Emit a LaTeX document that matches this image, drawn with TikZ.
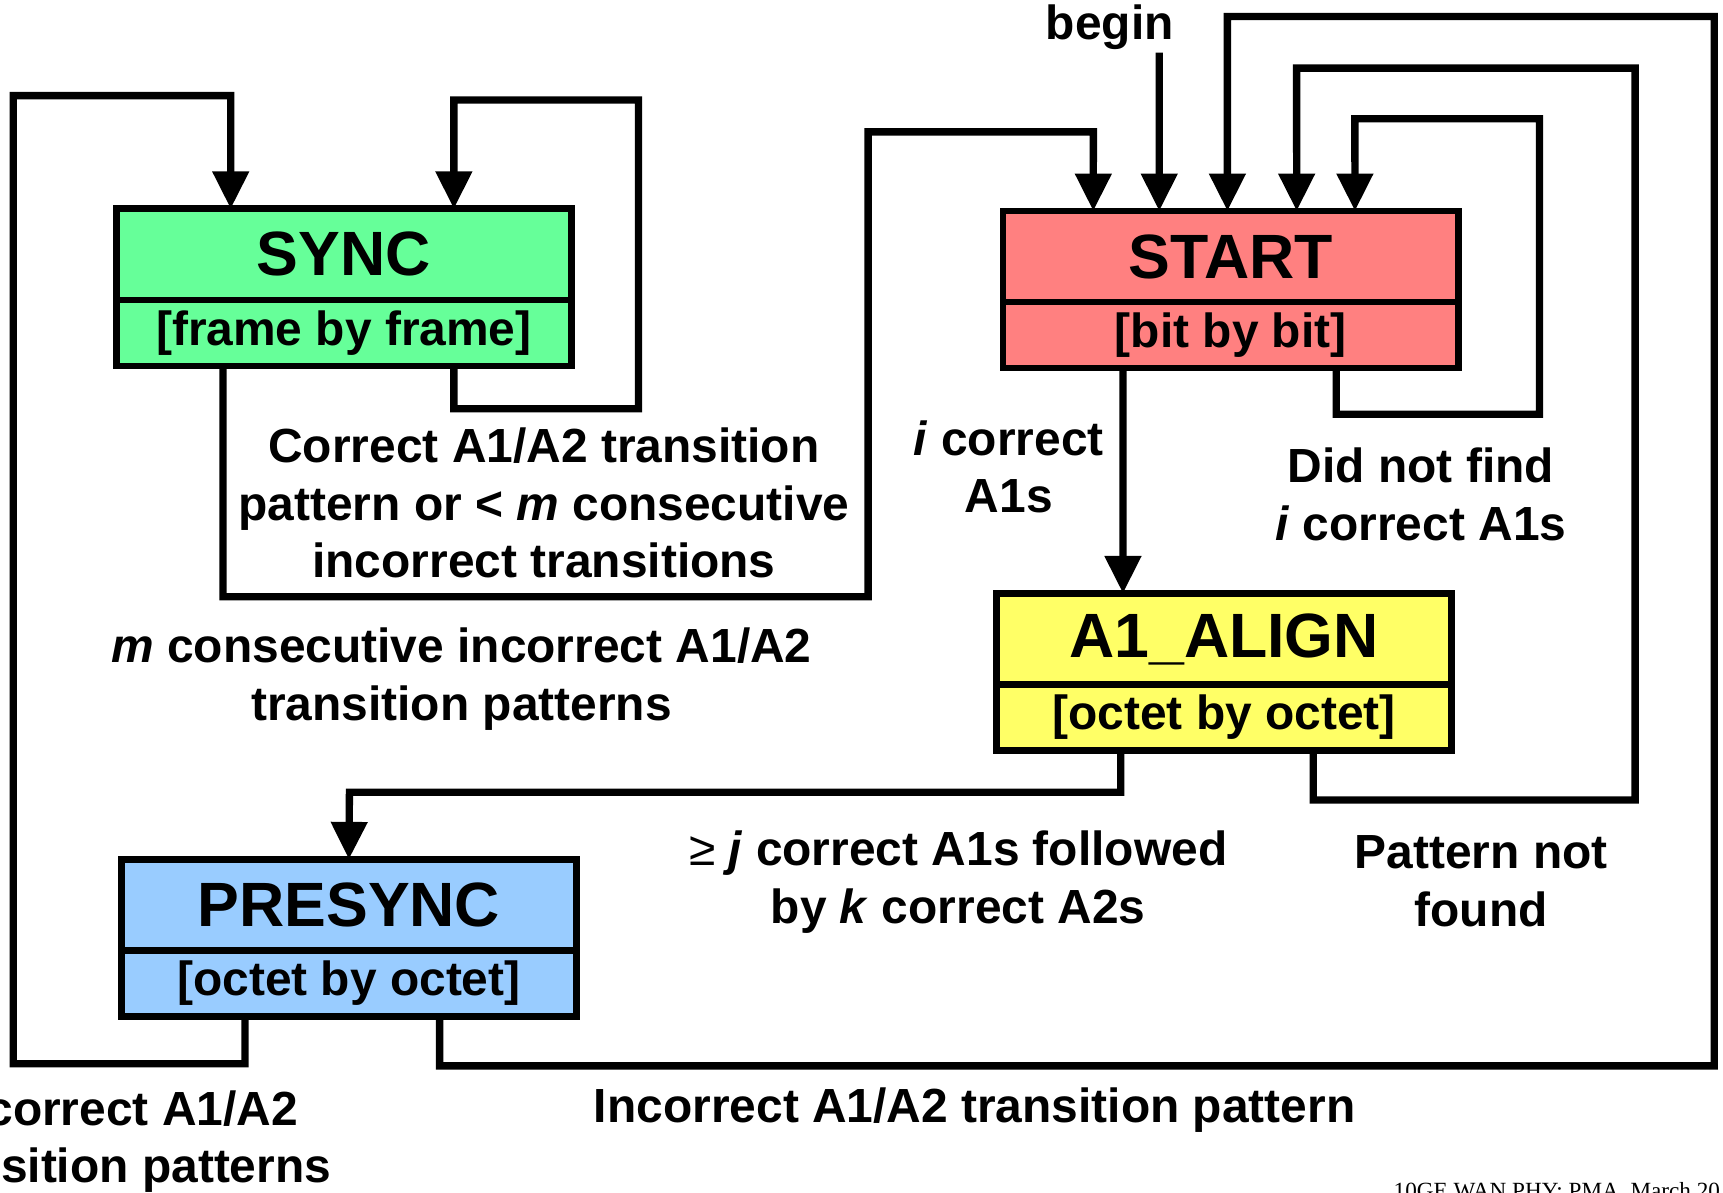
\documentclass[tikz,border=0pt]{standalone}
\usepackage{fontspec}
\setmainfont{Liberation Sans}
\newfontfamily\footfont{Liberation Serif}
\usetikzlibrary{arrows.meta,positioning}

\definecolor{syncgreen}{HTML}{66FF99}
\definecolor{startred}{HTML}{FF8080}
\definecolor{alignyellow}{HTML}{FFFF66}
\definecolor{presyncblue}{HTML}{99CCFF}

\tikzset{
  statetop/.style = {draw, line width=1.7pt, outer sep=0pt, inner sep=0pt, minimum width=4.14cm, minimum height=0.83cm,
                     font=\bfseries\fontsize{16.2}{18}\selectfont},
  statebot/.style = {draw, line width=1.7pt, outer sep=0pt, inner sep=0pt, minimum width=4.14cm, minimum height=0.60cm,
                     font=\bfseries\fontsize{12.4}{14.9}\selectfont},
  lbl/.style = {inner sep=0pt, align=center, font=\bfseries\fontsize{12.4}{14.9}\selectfont}
}

\begin{document}
\begin{tikzpicture}[x = 0.01cm, y = -0.01cm, line width = 1.9pt, >= {Triangle[width=0.32cm,length=0.34cm]}]
          \useasboundingbox (0,0) rectangle (1568,1085);
          \node[statetop, fill=syncgreen] (sync) at (313,231.5) {SYNC};
          \node[statebot, fill=syncgreen, below=0pt of sync] (syncsub) {[frame by frame]};
          \node[statetop, fill=startred] (start) at (1120,233.5) {START};
          \node[statebot, fill=startred, below=0pt of start] (startsub) {[bit by bit]};
          \node[statetop, fill=alignyellow] (align) at (1114,581.5) {A1\_ALIGN};
          \node[statebot, fill=alignyellow, below=0pt of align] (alignsub) {[octet by octet]};
          \node[statetop, fill=presyncblue] (presync) at (317.5,823.5) {PRESYNC};
          \node[statebot, fill=presyncblue, below=0pt of presync] (presyncsub) {[octet by octet]};

          \node[lbl] (begin) at (1010,25) {begin};
          \coordinate (beginpt) at (1055,48);
          \node[lbl] (syncok) at (495,458) {Correct A1/A2 transition\\pattern or < \textit{m} consecutive\\incorrect transitions};
          \node[lbl] (syncbad) at (420,618) {\textit{m} consecutive incorrect A1/A2\\transition patterns};
          \node[lbl] (found) at (918,425) {\textit{i} correct\\A1s};
          \node[lbl] (notfound) at (1293,450) {Did not find\\\textit{i} correct A1s};
          \node[lbl] (aligned) at (872,803) {{\mdseries ≥} \textit{j} correct A1s followed\\by \textit{k} correct A2s};
          \node[lbl] (nopattern) at (1348,802) {Pattern not\\found};
          \node[lbl] (presyncbad) at (887,1010) {Incorrect A1/A2 transition pattern};
          \node[lbl] (presyncok) at (110,1039) {Incorrect A1/A2\\transition patterns};
          \node[anchor=base west, inner sep=0pt, font=\footfont\fontsize{6}{7}\selectfont] (footer) at (1265,1091) {10GE WAN PHY: PMA, March 20};

          \draw[->] (beginpt) -- ([xshift=-0.65cm]start.north);
          \draw[->] ([xshift=1cm]syncsub.south) |- (581,372) |- (413,91) -- ([xshift=1cm]sync.north);
          \draw[->] ([xshift=-1.1cm]syncsub.south) |- (790,543) |- (995,120) -- ([xshift=-1.25cm]start.north);
          \draw[->] ([xshift=-0.945cm]presyncsub.south) |- (12,968) |- (210,87) -- ([xshift=-1.03cm]sync.north);
          \draw[->] ([xshift=0.96cm]startsub.south) |- (1401,377) |- (1233,108) -- ([xshift=1.13cm]start.north);
          \draw[->] ([xshift=0.81cm]alignsub.south) |- (1488,728) |- (1180,62) -- ([xshift=0.6cm]start.north);
          \draw[->] ([xshift=0.825cm]presyncsub.south) |- (1560,970) |- (1117,15) -- ([xshift=-0.03cm]start.north);
          \draw[->] ([xshift=-0.98cm]startsub.south) -- ([xshift=-0.92cm]align.north);
          \draw[->] ([xshift=-0.94cm]alignsub.south) |- (318,721) -- (presync.north);
        \end{tikzpicture}
\end{document}
